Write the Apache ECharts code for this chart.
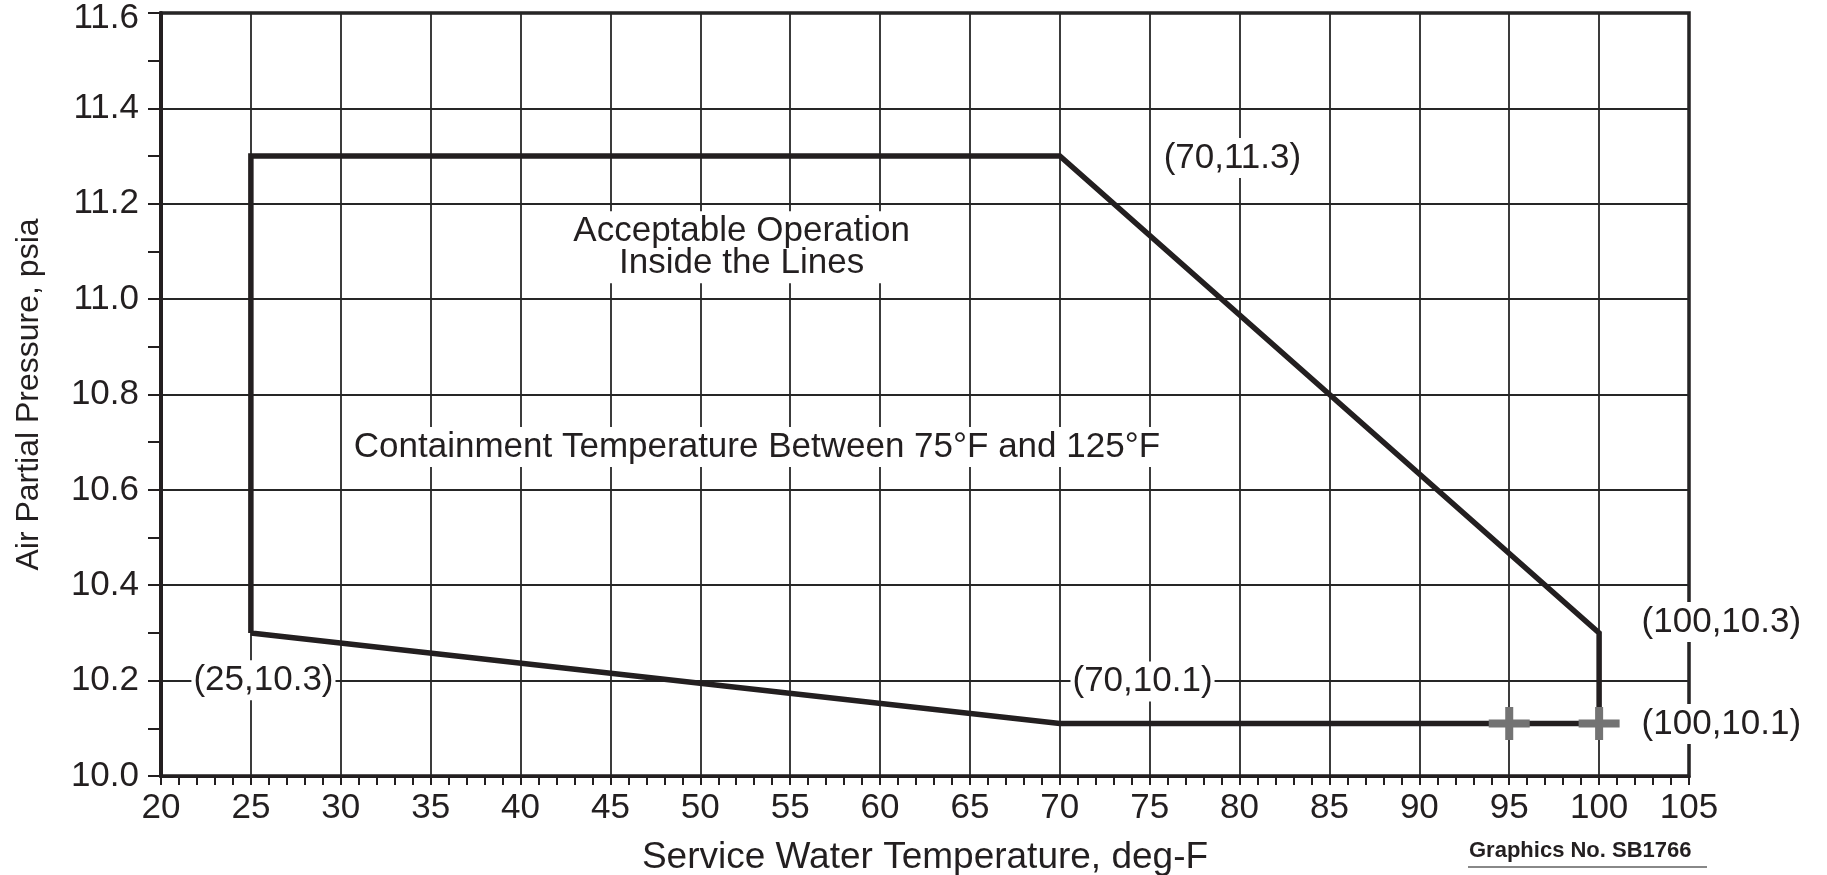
<!DOCTYPE html>
<html>
<head>
<meta charset="utf-8">
<script src="https://cdn.jsdelivr.net/npm/echarts@6/dist/echarts.min.js"></script>
<style>
html,body{margin:0;padding:0;background:#fff;}
#main{width:1827px;height:875px;}
</style>
</head>
<body>
<div id="main"></div>
<script>
// boundary of the acceptable region (deg-F, psia)
var boundaryX = [25, 25, 70, 100, 100, 70, 25];
var boundaryY = [10.3, 11.3, 11.3, 10.3, 10.11, 10.11, 10.3];
// grey plus markers on the bottom line
var markerX = [95, 100];
var markerY = [10.11, 10.11];
// annotation texts and where they sit (data units)
var noteText = ["(70,11.3)", "Acceptable Operation\nInside the Lines", "Containment Temperature Between 75°F and 125°F",
                "(25,10.3)", "(70,10.1)", "(100,10.3)", "(100,10.1)"];
var noteX = [79.6, 52.3, 53.15, 25.7, 74.6, 106.8, 106.8];
var noteY = [11.296, 11.109, 10.69, 10.201, 10.198, 10.323, 10.109];
// axes
var xMin = 20, xMax = 105, xStep = 5;
var yMin = 10.0, yMax = 11.6, yStep = 0.2;

var ink = '#231f20';
var font = "'Liberation Sans', Arial, sans-serif";

var boundary = [];
for (var i = 0; i < boundaryX.length; i++) {
    boundary.push([boundaryX[i], boundaryY[i]]);
}
var markers = [];
for (var i = 0; i < markerX.length; i++) {
    markers.push([markerX[i], markerY[i]]);
}
var notes = [];
for (var i = 0; i < noteText.length; i++) {
    notes.push({value: [noteX[i], noteY[i]], name: noteText[i]});
}

var myChart = echarts.init(document.getElementById('main'));
var option = {
    backgroundColor: '#fff',
    animation: false,
    grid: {
        left: 161, right: 138, top: 13, bottom: 99,
        outerBoundsMode: 'none',
        containLabel: false,
        show: true,
        borderWidth: 3.5,
        borderColor: ink,
        backgroundColor: 'transparent'
    },
    xAxis: {
        type: 'value',
        min: xMin, max: xMax, interval: xStep,
        name: 'Service Water Temperature, deg-F',
        nameLocation: 'middle',
        nameGap: 63,
        nameTextStyle: {color: ink, fontSize: 37, fontFamily: font},
        axisLine: {show: true, lineStyle: {color: ink, width: 3}},
        axisTick: {show: true, length: 9, lineStyle: {color: ink, width: 2}},
        minorTick: {show: true, splitNumber: 5, length: 9, lineStyle: {color: ink, width: 2}},
        splitLine: {show: true, lineStyle: {color: '#262626', width: 1.8}},
        axisLabel: {color: ink, fontSize: 35, fontFamily: font, margin: 15}
    },
    yAxis: {
        type: 'value',
        min: yMin, max: yMax, interval: yStep,
        name: 'Air Partial Pressure, psia',
        nameLocation: 'middle',
        nameGap: 116,
        nameTextStyle: {color: ink, fontSize: 32, fontFamily: font},
        axisLine: {show: true, lineStyle: {color: ink, width: 4}},
        axisTick: {show: true, length: 13, lineStyle: {color: ink, width: 2}},
        minorTick: {show: true, splitNumber: 2, length: 13, lineStyle: {color: ink, width: 2}},
        splitLine: {show: true, lineStyle: {color: '#262626', width: 1.8}},
        axisLabel: {
            color: ink, fontSize: 35, fontFamily: font, margin: 22,
            formatter: function (v) {
                // top label sits a bit lower so it is not cut off
                if (Math.abs(v - yMax) < 1e-6) return '{t|' + v.toFixed(1) + '}';
                return v.toFixed(1);
            },
            rich: {
                t: {color: ink, fontSize: 35, fontFamily: font, padding: [10, 0, 0, 0]}
            }
        }
    },
    series: [{
        type: 'line',
        data: boundary,
        symbol: 'none',
        lineStyle: {color: ink, width: 5.5, join: 'miter'},
        z: 3
    }, {
        type: 'scatter',
        data: markers,
        symbol: 'path://M16.5,0 H24.5 V12.5 H41 V20.5 H24.5 V33 H16.5 V20.5 H0 V12.5 H16.5 Z',
        symbolSize: [41, 33],
        itemStyle: {color: '#737373', opacity: 1},
        z: 4
    }, {
        type: 'scatter',
        data: notes,
        symbolSize: 0,
        clip: false,
        silent: true,
        itemStyle: {opacity: 1},
        label: {
            show: true,
            position: 'inside',
            formatter: '{b}',
            color: ink,
            opacity: 1,
            fontSize: 35,
            fontFamily: font,
            lineHeight: 32,
            align: 'center',
            backgroundColor: '#fff',
            padding: [4, 2]
        },
        z: 5
    }],
    graphic: [{
        type: 'text',
        left: 1469,
        top: 840,
        style: {text: 'Graphics No. SB1766', fill: ink, font: "bold 22px 'Liberation Sans', Arial, sans-serif"}
    }, {
        type: 'line',
        shape: {x1: 1468, y1: 867, x2: 1707, y2: 867},
        style: {stroke: '#888', lineWidth: 2}
    }]
};
myChart.setOption(option);
</script>
</body>
</html>
